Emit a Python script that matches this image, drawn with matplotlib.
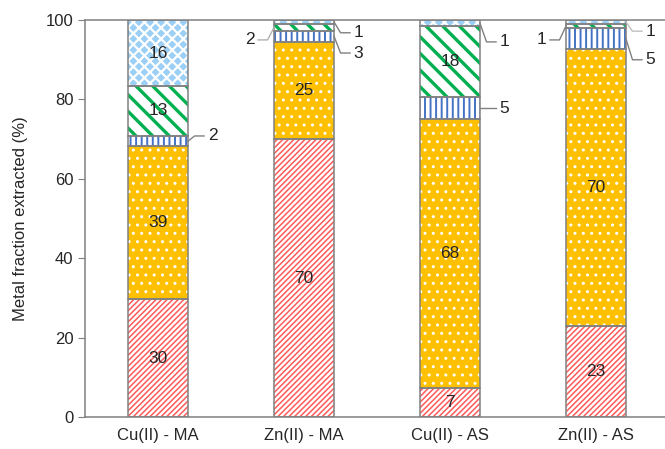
import matplotlib; matplotlib.use("Agg")
import matplotlib.pyplot as plt
import numpy as np

plt.rcParams.update({"font.family": ["Liberation Sans", "DejaVu Sans"], "font.size": 12})

samples = ["Cu(II) - MA", "Zn(II) - MA", "Cu(II) - AS", "Zn(II) - AS"]
# five extracted fractions, bottom to top (%)
frac1 = [29.6, 70.0, 7.3, 23.0]
frac2 = [38.7, 24.6, 67.8, 69.6]
frac3 = [2.4, 2.7, 5.4, 5.4]
frac4 = [12.8, 1.8, 18.0, 1.1]
frac5 = [16.4, 0.9, 1.4, 0.9]
fractions = [frac1, frac2, frac3, frac4, frac5]

# (face colour, hatch, hatch colour, hatch width)
styles = [("white", "//////", "#ff5a5a", 1.1),
          ("#ffc000", "..", "white", 1.0),
          ("white", "|||", "#4472c4", 1.4),
          ("white", "\\\\", "#00b050", 2.4),
          ("#9ccff5", "xxx", "white", 1.6)]
GRAY = "#808080"; TXT = "#262626"

fig = plt.figure(figsize=(6.65, 4.49), dpi=100)
ax = fig.add_axes([0.128, 0.0713, 0.878, 0.884])
x = np.arange(len(samples)); w = 0.41
bottom = np.zeros(len(samples))
for vals, (fc, h, hc, hw) in zip(fractions, styles):
    with plt.rc_context({"hatch.linewidth": hw}):
        bars = ax.bar(x, vals, w, bottom=bottom, color=fc, hatch=h, edgecolor=hc, lw=0, zorder=2)
        for b in bars:
            try: b.set_hatch_linewidth(hw)
            except AttributeError: pass
    ax.bar(x, vals, w, bottom=bottom, fill=False, edgecolor=GRAY, lw=1.1, zorder=3)
    for i, v in enumerate(vals):
        if v >= 7:
            ax.text(x[i], bottom[i] + v / 2, f"{v:.0f}", ha="center", va="center",
                    color=TXT, fontsize=12.5, zorder=4)
    bottom += vals

# small segments labelled outside with leader lines
cum = np.cumsum(np.array(fractions), axis=0)
def seg_mid(i, s):
    return cum[s][i] - fractions[s][i] / 2

def leader(i, s, side, ty, label, col=GRAY):
    y0 = seg_mid(i, s); e = x[i] + side * w / 2
    k = e + side * 0.045; t = e + side * 0.11
    ax.plot([e, k, t], [y0, ty, ty], color=col, lw=1, clip_on=False, zorder=4)
    ax.text(t + side * 0.025, ty, label, ha="left" if side > 0 else "right",
            va="center", color=TXT, fontsize=12.5, clip_on=False)

leader(0, 2, 1, 70.8, "2")
leader(1, 3, -1, 95.0, "2", col="#b0b0b0")
leader(1, 4, 1, 96.8, "1")
leader(1, 2, 1, 91.7, "3")
leader(2, 4, 1, 94.5, "1")
leader(2, 2, 1, 77.8, "5")
leader(3, 3, -1, 95.0, "1")
leader(3, 4, 1, 97.2, "1", col="#c0c0c0")
leader(3, 2, 1, 90.0, "5")

ax.set_xlim(-0.5, 3.5); ax.set_ylim(0, 100)
ax.set_xticks(x, samples)
ax.set_yticks(range(0, 101, 20))
ax.tick_params(axis="x", length=0, pad=8, labelcolor=TXT)
ax.tick_params(axis="y", length=5, color=GRAY, direction="out", labelcolor=TXT)
for sp in ax.spines.values():
    sp.set_color(GRAY); sp.set_linewidth(1.1)
ax.set_ylabel("Metal fraction extracted (%)", color=TXT, labelpad=13)

fig.savefig("out.png", dpi=100)
